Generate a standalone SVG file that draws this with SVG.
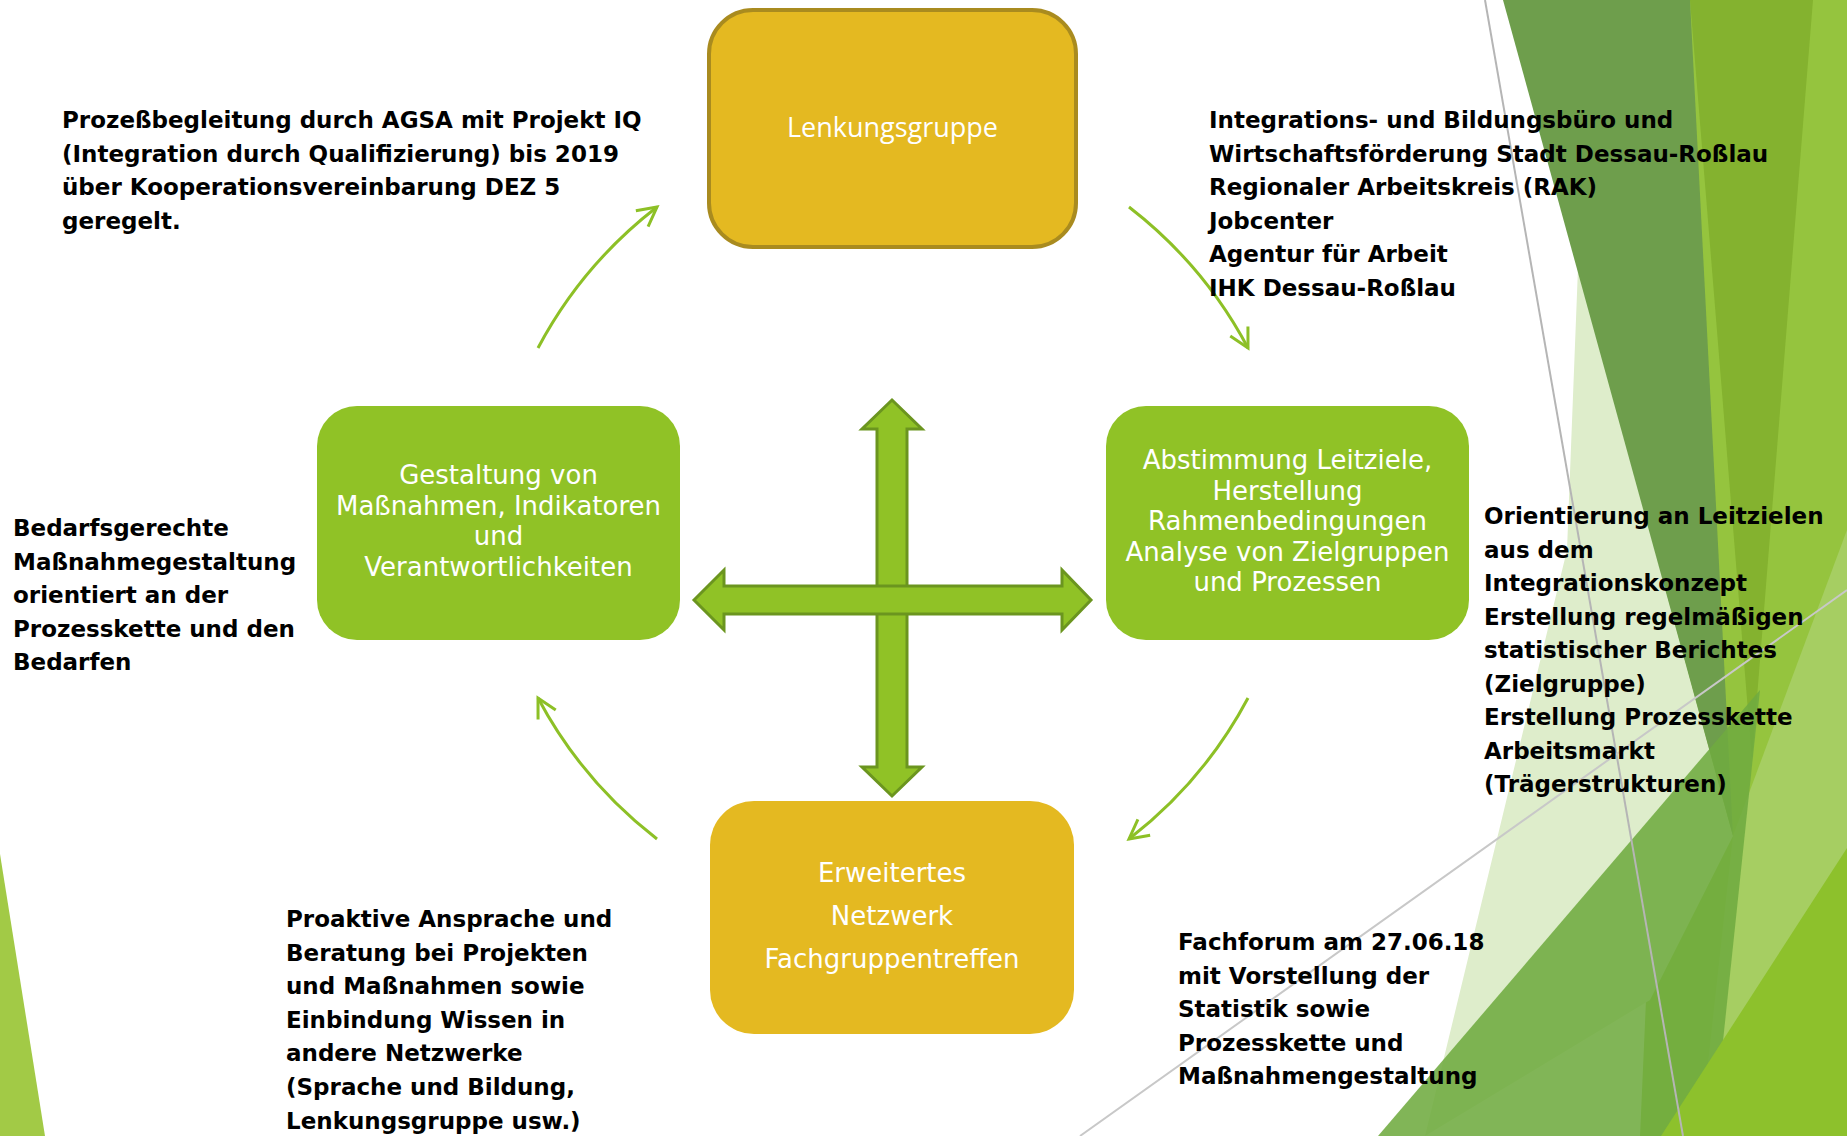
<svg xmlns="http://www.w3.org/2000/svg" width="1847" height="1136" viewBox="0 0 1847 1136">
<defs>
<style>
.note{font-family:"DejaVu Sans",Verdana,sans-serif;font-weight:bold;font-size:23px;fill:#000}
.box{font-family:"DejaVu Sans",Verdana,sans-serif;font-size:26px;fill:#fff;text-anchor:middle}
.cyc{fill:none;stroke:#8DC026;stroke-width:3}
.cross{fill:#90C226;stroke:#6B951F;stroke-width:3;stroke-linejoin:miter}
</style>
<marker id="open" markerUnits="userSpaceOnUse" orient="auto" markerWidth="30" markerHeight="30" refX="0" refY="0" viewBox="-22 -15 30 30" overflow="visible">
<path d="M-19,-10 L0,0 L-19,10" fill="none" stroke="#8DC026" stroke-width="3" stroke-linejoin="miter"/>
</marker>
</defs>
<rect width="1847" height="1136" fill="#fff"/>
<g id="background">
<polygon points="1690,0 1847,0 1847,1136 1640,1136" fill="#95C43E"/>
<polygon points="1690,0 1813,0 1752,760" fill="#84B22F"/>
<polygon points="1733,836 1847,530 1847,850 1760,1136 1700,1136" fill="#A6CE62"/>
<polygon points="1578,268 1733,836 1650,1000 1425,1136 1567,550" fill="#DEEDCB"/>
<polygon points="1503,0 1690,0 1733,836" fill="#6E9E4C"/>
<polygon points="1378,1136 1760,690 1713,1136" fill="#6FAB40" opacity="0.88"/>
<polygon points="1661,1136 1847,848 1847,1136" fill="#8DC12C"/>
<polygon points="0,854 45,1136 0,1136" fill="#A2CA46"/>
<line x1="1485" y1="0" x2="1683" y2="1136" stroke="#B5B5B5" stroke-width="2"/>
<line x1="1080" y1="1136" x2="1847" y2="590" stroke="#C8C8C8" stroke-width="2"/>
</g>
<g id="connectors">
<path class="cyc" d="M538,348 Q582,265 657,207" marker-end="url(#open)"/>
<path class="cyc" d="M1129,207 Q1204,265 1248,348" marker-end="url(#open)"/>
<path class="cyc" d="M1248,698 Q1204,781 1129,839" marker-end="url(#open)"/>
<path class="cyc" d="M657,839 Q582,781 538,698" marker-end="url(#open)"/>
</g>
<g id="cross">
<polygon class="cross" points="892,400 922,429 907,429 907,767 922,767 892,796 862,767 877,767 877,429 862,429"/>
<polygon class="cross" points="694,600 724,570 724,586 1062,586 1062,570 1091,600 1062,630 1062,614 724,614 724,630"/>
</g>
<g id="node-lenkungsgruppe">
<rect x="709" y="10" width="367" height="237" rx="44" fill="#E4B921" stroke="#A98B1F" stroke-width="4"/>
<text x="892.5" y="137" style="font-family:'Open Sans','Noto Sans',sans-serif;font-size:27px;fill:#fff;text-anchor:middle">Lenkungsgruppe</text>
</g>
<g id="node-gestaltung">
<rect x="317" y="406" width="363" height="234" rx="40" fill="#90C226"/>
<text class="box" x="498.5" y="484">Gestaltung von</text>
<text class="box" x="498.5" y="514.5">Maßnahmen, Indikatoren</text>
<text class="box" x="498.5" y="545">und</text>
<text class="box" x="498.5" y="575.5">Verantwortlichkeiten</text>
</g>
<g id="node-abstimmung">
<rect x="1106" y="406" width="363" height="234" rx="40" fill="#90C226"/>
<text class="box" x="1287.5" y="469">Abstimmung Leitziele,</text>
<text class="box" x="1287.5" y="499.5">Herstellung</text>
<text class="box" x="1287.5" y="530">Rahmenbedingungen</text>
<text class="box" x="1287.5" y="560.5">Analyse von Zielgruppen</text>
<text class="box" x="1287.5" y="591">und Prozessen</text>
</g>
<g id="node-netzwerk">
<rect x="710" y="801" width="364" height="233" rx="44" fill="#E4B921"/>
<text class="box" x="892" y="882">Erweitertes</text>
<text class="box" x="892" y="925">Netzwerk</text>
<text class="box" x="892" y="968">Fachgruppentreffen</text>
</g>
<g id="note-agsa">
<text class="note" x="62" y="128">Prozeßbegleitung durch AGSA mit Projekt IQ</text>
<text class="note" x="62" y="161.6">(Integration durch Qualifizierung) bis 2019</text>
<text class="note" x="62" y="195.2">über Kooperationsvereinbarung DEZ 5</text>
<text class="note" x="62" y="228.8">geregelt.</text>
</g>
<g id="note-partner">
<text class="note" x="1209" y="128">Integrations- und Bildungsbüro und</text>
<text class="note" x="1209" y="161.6">Wirtschaftsförderung Stadt Dessau-Roßlau</text>
<text class="note" x="1209" y="195.2">Regionaler Arbeitskreis (RAK)</text>
<text class="note" x="1209" y="228.8">Jobcenter</text>
<text class="note" x="1209" y="262.4">Agentur für Arbeit</text>
<text class="note" x="1209" y="296">IHK Dessau-Roßlau</text>
</g>
<g id="note-bedarf">
<text class="note" x="13" y="536">Bedarfsgerechte</text>
<text class="note" x="13" y="569.6">Maßnahmegestaltung</text>
<text class="note" x="13" y="603.2">orientiert an der</text>
<text class="note" x="13" y="636.8">Prozesskette und den</text>
<text class="note" x="13" y="670.4">Bedarfen</text>
</g>
<g id="note-leitziele">
<text class="note" x="1484" y="524">Orientierung an Leitzielen</text>
<text class="note" x="1484" y="557.5">aus dem</text>
<text class="note" x="1484" y="591">Integrationskonzept</text>
<text class="note" x="1484" y="624.5">Erstellung regelmäßigen</text>
<text class="note" x="1484" y="658">statistischer Berichtes</text>
<text class="note" x="1484" y="691.5">(Zielgruppe)</text>
<text class="note" x="1484" y="725">Erstellung Prozesskette</text>
<text class="note" x="1484" y="758.5">Arbeitsmarkt</text>
<text class="note" x="1484" y="792">(Trägerstrukturen)</text>
</g>
<g id="note-proaktiv">
<text class="note" x="286" y="927">Proaktive Ansprache und</text>
<text class="note" x="286" y="960.6">Beratung bei Projekten</text>
<text class="note" x="286" y="994.2">und Maßnahmen sowie</text>
<text class="note" x="286" y="1027.8">Einbindung Wissen in</text>
<text class="note" x="286" y="1061.4">andere Netzwerke</text>
<text class="note" x="286" y="1095">(Sprache und Bildung,</text>
<text class="note" x="286" y="1128.6">Lenkungsgruppe usw.)</text>
</g>
<g id="note-fachforum">
<text class="note" x="1178" y="950">Fachforum am 27.06.18</text>
<text class="note" x="1178" y="983.6">mit Vorstellung der</text>
<text class="note" x="1178" y="1017.2">Statistik sowie</text>
<text class="note" x="1178" y="1050.8">Prozesskette und</text>
<text class="note" x="1178" y="1084.4">Maßnahmengestaltung</text>
</g>
</svg>
